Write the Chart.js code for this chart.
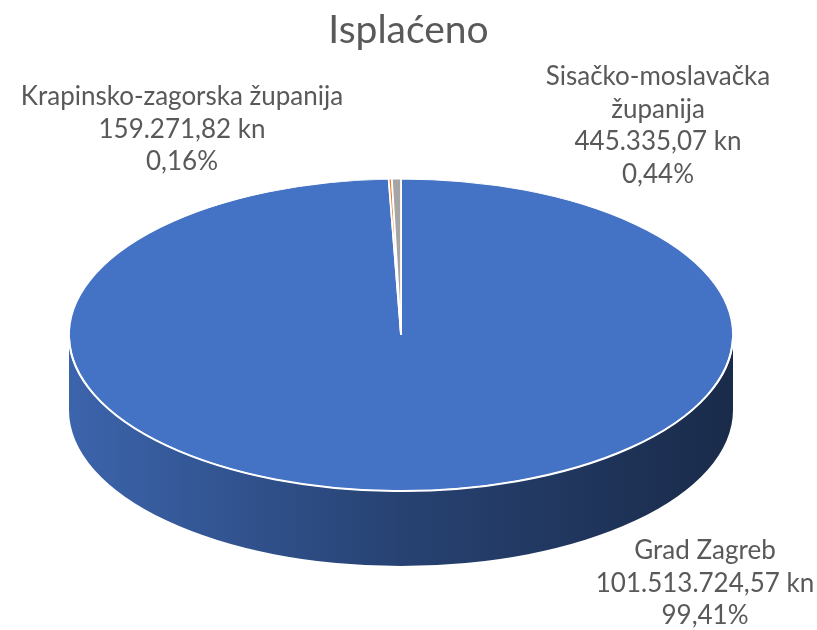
<!DOCTYPE html>
<html>
<head>
<meta charset="utf-8">
<script src="https://cdn.jsdelivr.net/npm/chart.js@4.4.1/dist/chart.umd.min.js"></script>
<style>
  html, body { margin: 0; padding: 0; background: #fff; }
  #wrap { width: 817px; height: 630px; }
</style>
</head>
<body>
<div id="wrap"><canvas id="chart_isplaceno"></canvas></div>
<script>
var chartTitle = 'Isplaćeno';
var categories = ['Grad Zagreb', 'Krapinsko-zagorska županija', ['Sisačko-moslavačka', 'županija']];
var amounts = [101513724.57, 159271.82, 445335.07];
var sliceColors = ['#4472C4', '#ED7D31', '#A5A5A5'];

var FONT = 'Lato, "Liberation Sans", sans-serif';
var TEXT = '#595959';

function fmtKn(v) {
    var parts = v.toFixed(2).split('.');
    return parts[0].replace(/\B(?=(\d{3})+(?!\d))/g, '.') + ',' + parts[1] + ' kn';
}
function fmtPct(v) {
    return (v * 100).toFixed(2).replace('.', ',') + '%';
}
function shade(hex, f) {
    var n = parseInt(hex.slice(1), 16);
    var r = Math.round(((n >> 16) & 255) * f), g = Math.round(((n >> 8) & 255) * f), b = Math.round((n & 255) * f);
    return 'rgb(' + r + ',' + g + ',' + b + ')';
}

// squashes the flat pie into an ellipse and draws the front wall under it
var pie3d = {
    id: 'pie3d',
    beforeDatasetsDraw: function (chart, args, o) {
        var meta = chart.getDatasetMeta(0);
        if (!meta.data.length) return;
        var ctx = chart.ctx;
        var first = meta.data[0];
        var R = first.outerRadius;

        meta.data.forEach(function (arc, i) {
            var s = arc.startAngle, e = arc.endAngle;
            for (var k = -1; k <= 1; k++) {
                var lo = Math.max(s, 2 * Math.PI * k), hi = Math.min(e, 2 * Math.PI * k + Math.PI);
                if (hi <= lo) continue;
                var g = ctx.createLinearGradient(o.cx - o.rx, 0, o.cx + o.rx, 0);
                g.addColorStop(0, shade(sliceColors[i], 0.88));
                g.addColorStop(0.5, shade(sliceColors[i], 0.58));
                g.addColorStop(1, shade(sliceColors[i], 0.38));
                ctx.save();
                ctx.beginPath();
                ctx.ellipse(o.cx, o.cy, o.rx, o.ry, 0, lo, hi);
                ctx.lineTo(o.cx + o.rx * Math.cos(hi), o.cy + o.ry * Math.sin(hi) + o.depth);
                ctx.ellipse(o.cx, o.cy + o.depth, o.rx, o.ry, 0, hi, lo, true);
                ctx.closePath();
                ctx.fillStyle = g;
                ctx.fill();
                ctx.restore();
            }
        });

        ctx.save();
        ctx.translate(o.cx, o.cy);
        ctx.scale(o.rx / R, o.ry / R);
        ctx.translate(-first.x, -first.y);
    },
    afterDatasetsDraw: function (chart, args, o) {
        var ctx = chart.ctx;
        ctx.restore();

        // white rim between the top face and the wall
        ctx.save();
        ctx.beginPath();
        ctx.ellipse(o.cx, o.cy, o.rx, o.ry, 0, 0.02, Math.PI - 0.02);
        ctx.strokeStyle = '#ffffff';
        ctx.lineWidth = 2;
        ctx.stroke();
        ctx.restore();

        var total = amounts.reduce(function (a, b) { return a + b; }, 0);
        ctx.save();
        ctx.font = o.fontSize + 'px ' + FONT;
        ctx.fillStyle = TEXT;
        ctx.textAlign = 'center';
        ctx.textBaseline = 'middle';
        categories.forEach(function (cat, i) {
            var lines = [].concat(cat, fmtKn(amounts[i]), fmtPct(amounts[i] / total));
            var p = o.labelPos[i];
            lines.forEach(function (t, j) {
                ctx.fillText(t, p.x, p.y + j * o.lineGap);
            });
        });
        ctx.restore();
    }
};

var chart_isplaceno = new Chart(document.getElementById('chart_isplaceno'), {
    type: 'pie',
    data: {
        labels: categories,
        datasets: [{
            data: amounts,
            backgroundColor: sliceColors,
            borderColor: '#ffffff',
            borderWidth: 1.5,
            clip: false
        }]
    },
    options: {
        animation: false,
        responsive: true,
        maintainAspectRatio: false,
        rotation: 0,
        layout: { padding: 0 },
        plugins: {
            legend: { display: false },
            tooltip: { enabled: false },
            title: {
                display: true,
                text: chartTitle,
                color: TEXT,
                font: { family: FONT, size: 39, weight: 'normal' },
                padding: { top: 7, bottom: 8 }
            },
            pie3d: {
                cx: 401, cy: 335, rx: 332, ry: 156, depth: 75,
                fontSize: 26, lineGap: 32.5,
                labelPos: [{ x: 705, y: 551 }, { x: 182, y: 97 }, { x: 658, y: 77 }]
            }
        }
    },
    plugins: [pie3d]
});
</script>
</body>
</html>
